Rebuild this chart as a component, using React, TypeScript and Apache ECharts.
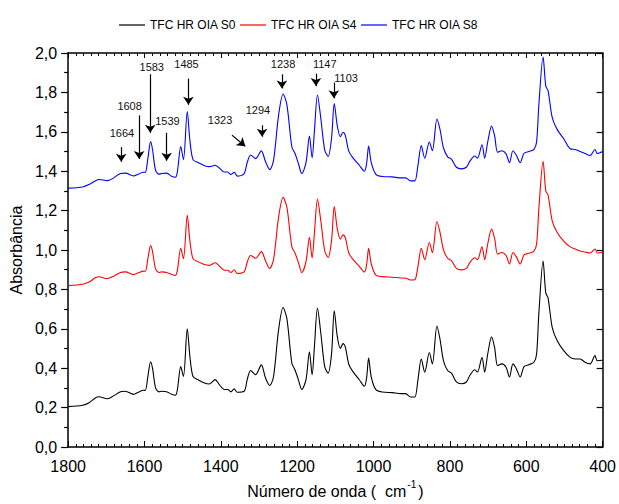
import React, { useEffect, useRef } from "react";
import * as echarts from "echarts";

const seriesNames = ["TFC HR OIA S0", "TFC HR OIA S4", "TFC HR OIA S8"];
const seriesColors = ["#000000", "#ff0000", "#0000ff"];

const wavenumbers = [
  1800, 1762, 1745, 1728, 1719, 1698, 1685, 1663, 1650, 1629, 1616, 1603, 1598, 1591, 1584, 1579,
  1571, 1562, 1555, 1542, 1529, 1519, 1514, 1505, 1498, 1488, 1481, 1473, 1460, 1443, 1430, 1415,
  1404, 1391, 1382, 1374, 1365, 1357, 1339, 1331, 1322, 1309, 1294, 1283, 1272, 1262, 1249, 1237,
  1227, 1214, 1206, 1197, 1188, 1177, 1168, 1161, 1155, 1147, 1138, 1128, 1119, 1110, 1103, 1095,
  1087, 1080, 1074, 1065, 1055, 1037, 1024, 1018, 1013, 1006, 994, 977, 951, 929, 916, 903,
  892, 884, 875, 866, 854, 846, 834, 826, 817, 806, 796, 783, 770, 757, 748, 735,
  728, 716, 709, 701, 691, 683, 675, 664, 653, 644, 635, 626, 616, 606, 593, 580,
  573, 567, 556, 549, 543, 532, 519, 502, 485, 472, 459, 446, 433, 420, 414, 400,
];

const s0Values = [
  0.205, 0.212, 0.225, 0.25, 0.255, 0.245, 0.255, 0.28, 0.283, 0.267, 0.278, 0.288, 0.287, 0.36, 0.433, 0.4,
  0.3, 0.28, 0.283, 0.28, 0.268, 0.263, 0.29, 0.408, 0.358, 0.6, 0.458, 0.358, 0.342, 0.325, 0.32, 0.342,
  0.317, 0.292, 0.292, 0.28, 0.295, 0.278, 0.283, 0.342, 0.388, 0.367, 0.417, 0.35, 0.312, 0.358, 0.592, 0.708,
  0.65, 0.425, 0.392, 0.342, 0.292, 0.342, 0.483, 0.367, 0.508, 0.705, 0.575, 0.408, 0.375, 0.475, 0.692, 0.56,
  0.5, 0.525, 0.508, 0.42, 0.385, 0.34, 0.308, 0.355, 0.452, 0.355, 0.291, 0.279, 0.276, 0.271, 0.271, 0.254,
  0.254, 0.338, 0.447, 0.38, 0.48, 0.422, 0.614, 0.547, 0.439, 0.388, 0.375, 0.33, 0.321, 0.33, 0.363, 0.392,
  0.38, 0.455, 0.38, 0.472, 0.559, 0.505, 0.413, 0.422, 0.405, 0.355, 0.422, 0.397, 0.355, 0.408, 0.418, 0.43,
  0.472, 0.681, 0.944, 0.782, 0.757, 0.606, 0.539, 0.489, 0.455, 0.447, 0.447, 0.43, 0.422, 0.464, 0.438, 0.44,
];

const s4Values = [
  0.819, 0.826, 0.837, 0.86, 0.864, 0.855, 0.864, 0.886, 0.889, 0.875, 0.884, 0.893, 0.892, 0.957, 1.022, 0.993,
  0.904, 0.886, 0.889, 0.886, 0.876, 0.871, 0.895, 1.008, 0.956, 1.176, 1.045, 0.956, 0.941, 0.926, 0.922, 0.935,
  0.919, 0.897, 0.897, 0.886, 0.9, 0.881, 0.889, 0.938, 0.972, 0.958, 0.992, 0.945, 0.906, 0.952, 1.164, 1.267,
  1.216, 1.015, 0.986, 0.937, 0.885, 0.941, 1.064, 0.96, 1.085, 1.257, 1.145, 0.995, 0.962, 1.05, 1.22, 1.107,
  1.055, 1.077, 1.062, 0.985, 0.955, 0.916, 0.888, 0.929, 1.008, 0.929, 0.873, 0.865, 0.862, 0.858, 0.857, 0.848,
  0.849, 0.914, 1.009, 0.951, 1.038, 0.987, 1.145, 1.09, 1.002, 0.958, 0.946, 0.907, 0.899, 0.907, 0.936, 0.961,
  0.951, 1.016, 0.951, 1.031, 1.106, 1.059, 0.979, 0.987, 0.972, 0.929, 0.987, 0.965, 0.929, 0.975, 0.984, 0.994,
  1.031, 1.212, 1.45, 1.3, 1.279, 1.147, 1.089, 1.045, 1.016, 1.005, 0.995, 0.99, 0.985, 1.005, 0.985, 0.99,
];

const s8Values = [
  1.314, 1.32, 1.333, 1.352, 1.358, 1.352, 1.361, 1.388, 1.39, 1.376, 1.385, 1.395, 1.394, 1.466, 1.55, 1.51,
  1.404, 1.385, 1.388, 1.39, 1.374, 1.369, 1.395, 1.525, 1.459, 1.703, 1.554, 1.459, 1.444, 1.428, 1.423, 1.43,
  1.416, 1.396, 1.396, 1.383, 1.395, 1.375, 1.388, 1.444, 1.482, 1.464, 1.503, 1.448, 1.408, 1.455, 1.681, 1.792,
  1.737, 1.523, 1.491, 1.44, 1.388, 1.444, 1.578, 1.468, 1.602, 1.787, 1.665, 1.507, 1.475, 1.57, 1.743, 1.63,
  1.575, 1.598, 1.582, 1.502, 1.47, 1.429, 1.4, 1.443, 1.528, 1.443, 1.384, 1.373, 1.371, 1.366, 1.366, 1.351,
  1.351, 1.427, 1.53, 1.466, 1.548, 1.504, 1.665, 1.612, 1.519, 1.473, 1.461, 1.42, 1.412, 1.42, 1.45, 1.477,
  1.466, 1.534, 1.466, 1.549, 1.629, 1.58, 1.496, 1.504, 1.488, 1.443, 1.504, 1.481, 1.443, 1.491, 1.5, 1.511,
  1.549, 1.74, 1.98, 1.832, 1.809, 1.672, 1.611, 1.565, 1.514, 1.51, 1.5, 1.49, 1.48, 1.51, 1.49, 1.5,
];

const xTickInterval = 200;
const yTickInterval = 0.2;

const annotationTexts = ["1664", "1608", "1583", "1539", "1485", "1323", "1294", "1238", "1147", "1103"];
const annotationTextX = [1659, 1639, 1581, 1540, 1490, 1402, 1303, 1237, 1128, 1072];
const annotationTextY = [1.592, 1.733, 1.93, 1.655, 1.942, 1.662, 1.712, 1.945, 1.945, 1.875];
const arrowStartX = [1661, 1614, 1585, 1542, 1485, 1371, 1292, 1240, 1151, 1104];
const arrowStartY = [1.522, 1.683, 1.892, 1.595, 1.87, 1.583, 1.633, 1.892, 1.895, 1.85];
const arrowEndX = [1661, 1614, 1585, 1542, 1485, 1336, 1292, 1240, 1151, 1104];
const arrowEndY = [1.448, 1.462, 1.595, 1.453, 1.737, 1.527, 1.575, 1.82, 1.832, 1.77];

const FONT = 'Arial, "Liberation Sans", sans-serif';

export default function App() {
  const ref = useRef<HTMLDivElement>(null);

  useEffect(() => {
    if (!ref.current) return;
    const chart = echarts.init(ref.current, null, { renderer: "svg" });
    const valueSets = [s0Values, s4Values, s8Values];

    const lineSeries = seriesNames.map((name, k) => ({
      name,
      type: "line",
      xAxisIndex: 0,
      yAxisIndex: 0,
      data: wavenumbers.map((w, i) => [w, valueSets[k][i]]),
      showSymbol: false,
      symbol: "none",
      smooth: 0.3,
      lineStyle: { color: seriesColors[k], width: 1.1 },
      itemStyle: { color: seriesColors[k] },
      silent: true,
      z: 3 - k,
    }));

    const axisLineStyle = { color: "#000", width: 1.5 };

    const option = {
      animation: false,
      backgroundColor: "#ffffff",
      textStyle: { fontFamily: FONT },
      legend: {
        data: seriesNames.map((n) => ({ name: n, icon: "rect" })),
        left: 114,
        top: 14,
        itemWidth: 26,
        itemHeight: 1.2,
        itemGap: 4,
        textStyle: { fontSize: 12, color: "#000", fontFamily: FONT },
      },
      grid: { left: 64, right: 13, top: 53, bottom: 50 },
      xAxis: [
        {
          type: "value",
          position: "bottom",
          min: 400,
          max: 1800,
          interval: xTickInterval,
          inverse: true,
          axisLine: { show: true, onZero: false, lineStyle: axisLineStyle },
          axisTick: { show: true, inside: true, length: 6, lineStyle: { color: "#000", width: 1 } },
          minorTick: { show: true, splitNumber: 10, length: 3, lineStyle: { color: "#000", width: 1 } },
          splitLine: { show: false },
          axisLabel: {
            fontSize: 16,
            color: "#000",
            margin: 11,
            fontFamily: FONT,
            formatter: (v: number) => String(v),
          },
          name: "{a|Número de onda (  cm}{s|-1}{a|)}",
          nameLocation: "middle",
          nameGap: 32,
          nameTextStyle: {
            rich: {
              a: { fontSize: 16, color: "#000", fontFamily: FONT, lineHeight: 20, verticalAlign: "bottom" },
              s: { fontSize: 10, color: "#000", fontFamily: FONT, lineHeight: 20, verticalAlign: "top", padding: [0, 2, 0, 1] },
            },
          },
        },
        {
          type: "value",
          position: "top",
          min: 400,
          max: 1800,
          interval: xTickInterval,
          inverse: true,
          axisLine: { show: true, onZero: false, lineStyle: axisLineStyle },
          axisTick: { show: true, inside: true, length: 5, lineStyle: { color: "#000", width: 1 } },
          minorTick: { show: true, splitNumber: 10, length: 3, lineStyle: { color: "#000", width: 1 } },
          splitLine: { show: false },
          axisLabel: { show: false },
        },
      ],
      yAxis: [
        {
          type: "value",
          position: "left",
          min: 0,
          max: 2,
          interval: yTickInterval,
          axisLine: { show: true, onZero: false, lineStyle: axisLineStyle },
          axisTick: { show: true, inside: false, length: 7, lineStyle: { color: "#000", width: 1.2 } },
          minorTick: { show: true, splitNumber: 2, length: 4, lineStyle: { color: "#000", width: 1.2 } },
          splitLine: { show: false },
          axisLabel: {
            fontSize: 16,
            color: "#000",
            margin: 11,
            fontFamily: FONT,
            formatter: (v: number) => v.toFixed(1).replace(".", ","),
          },
          name: "Absorbância",
          nameLocation: "middle",
          nameGap: 31,
          nameTextStyle: { fontSize: 16, color: "#000", fontFamily: FONT },
        },
        {
          type: "value",
          position: "right",
          min: 0,
          max: 2,
          interval: yTickInterval,
          axisLine: { show: true, onZero: false, lineStyle: axisLineStyle },
          axisTick: { show: true, inside: true, length: 6, lineStyle: { color: "#000", width: 1.2 } },
          splitLine: { show: false },
          axisLabel: { show: false },
        },
      ],
      series: [
        ...lineSeries,
        {
          name: "annotations",
          type: "line",
          xAxisIndex: 0,
          yAxisIndex: 0,
          data: [],
          silent: true,
          z: 10,
          markPoint: {
            silent: true,
            symbol: "circle",
            symbolSize: 0,
            itemStyle: { color: "#000000" },
            label: {
              show: true,
              position: "inside",
              formatter: "{b}",
              fontSize: 11,
              color: "#111111",
              textBorderWidth: 0,
              fontFamily: FONT,
            },
            data: annotationTexts.map((t, i) => ({
              name: t,
              coord: [annotationTextX[i], annotationTextY[i]],
            })),
          },
          markLine: {
            silent: true,
            symbol: ["none", "arrow"],
            symbolSize: 8,
            label: { show: false },
            lineStyle: { color: "#000", width: 1.2, type: "solid" },
            emphasis: { disabled: true },
            data: annotationTexts.map((_, i) => [
              { coord: [arrowStartX[i], arrowStartY[i]] },
              { coord: [arrowEndX[i], arrowEndY[i]] },
            ]),
          },
        },
      ],
    };

    chart.setOption(option as any);
    return () => chart.dispose();
  }, []);

  return (
    <div
      ref={ref}
      style={{ position: "fixed", left: 0, top: 0, width: 619, height: 504, background: "#fff" }}
    />
  );
}
